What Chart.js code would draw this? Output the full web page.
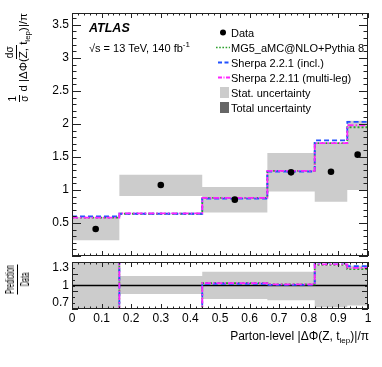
<!DOCTYPE html>
<html>
<head>
<meta charset="utf-8">
<title>ATLAS |dPhi(Z, t_lep)|/pi</title>
<script src="https://cdn.jsdelivr.net/npm/chart.js"></script>
<style>
  body { margin: 0; background: #fff; font-family: "Liberation Sans", Arial, sans-serif; }
  #wrap { position: relative; width: 382px; height: 367px; overflow: hidden; }
  canvas { position: absolute; left: 0; top: 0; }
  .lbl { position: absolute; white-space: nowrap; color: #000; }
  .frac { display: inline-flex; flex-direction: column; align-items: center; }
  .frac .num { border-bottom: 1px solid #000; padding: 0 1px; line-height: 1.05; }
  .frac .den { padding: 0 1px; line-height: 1.05; }
  .leg { position: absolute; left: 215px; top: 25px; font-size: 11px; }
  .leg .row { height: 15px; display: flex; align-items: center; }
  .leg svg { width: 15px; height: 15px; margin-right: 1px; }
  sub { font-size: 8px; }
  sup { font-size: 8px; }
</style>
</head>
<body>
<div id="wrap">
  <canvas id="main" width="382" height="367"></canvas>
  <canvas id="ratio" width="382" height="367"></canvas>

  <div class="lbl" style="left:89px; top:21px; font-size:12.5px; font-weight:bold; font-style:italic;">ATLAS</div>
  <div class="lbl" style="left:89px; top:40px; font-size:11px;">&radic;s = 13 TeV, 140 fb<sup>-1</sup></div>

  <div class="leg">
    <div class="row"><svg viewBox="0 0 15 15"><circle cx="8" cy="7.5" r="3" fill="#000"/></svg>Data</div>
    <div class="row"><svg viewBox="0 0 15 15"><line x1="1" y1="7.5" x2="15" y2="7.5" stroke="#2ca02c" stroke-width="1.6" stroke-dasharray="1.6 1.6"/></svg>MG5_aMC@NLO+Pythia 8</div>
    <div class="row"><svg viewBox="0 0 15 15"><line x1="3" y1="7.5" x2="15" y2="7.5" stroke="#2050ff" stroke-width="1.8" stroke-dasharray="4 2.5"/></svg>Sherpa 2.2.1 (incl.)</div>
    <div class="row"><svg viewBox="0 0 15 15"><line x1="3" y1="7.5" x2="15" y2="7.5" stroke="#ff22ff" stroke-width="1.8" stroke-dasharray="4 1.5 1 1.5"/></svg>Sherpa 2.2.11 (multi-leg)</div>
    <div class="row"><svg viewBox="0 0 15 15"><rect x="5" y="2" width="9" height="11" fill="#cccccc"/></svg>Stat. uncertainty</div>
    <div class="row"><svg viewBox="0 0 15 15"><rect x="5" y="2" width="9" height="11" fill="#666666"/></svg>Total uncertainty</div>
  </div>

  <div class="lbl" style="left:4px; top:104px; width:92px; height:30px; transform-origin:0 0; transform:rotate(-90deg); display:flex; justify-content:flex-end; align-items:center; font-size:11.5px;">
    <span class="frac" style="font-size:10px; margin-right:2px;"><span class="num">1</span><span class="den">&sigma;</span></span>
    <span class="frac"><span class="num" style="font-size:10px;">d&sigma;</span><span class="den">d |&Delta;&Phi;(Z, t<sub>lep</sub>)|/&pi;</span></span>
  </div>

  <div class="lbl" style="left:2px; top:292px; width:50px; height:30px; transform-origin:0 0; transform:rotate(-90deg) scale(0.5,1); display:flex; justify-content:center; align-items:center; font-size:13px;">
    <span class="frac"><span class="num">Prediction</span><span class="den">Data</span></span>
  </div>

  <div class="lbl" style="right:13px; top:329px; font-size:12px;">Parton-level |&Delta;&Phi;(Z, t<sub>lep</sub>)|/&pi;</div>
</div>

<script>
  // bin edges in |dPhi(Z, t_lep)|/pi
  const edges = [0, 0.16, 0.44, 0.66, 0.82, 0.93, 1];
  const dataX = [0.08, 0.30, 0.55, 0.74, 0.875, 0.965];
  const dataY = [0.41, 1.075, 0.853, 1.267, 1.277, 1.535];
  const statLow = [0.24, 0.91, 0.66, 0.975, 0.82, 1.0];
  const statHigh = [0.59, 1.23, 1.045, 1.56, 1.71, 2.05];
  const mg5 = [0.58, 0.64, 0.88, 1.29, 1.71, 1.95];
  const sherpa221 = [0.60, 0.64, 0.87, 1.28, 1.75, 2.03];
  const sherpa2211 = [0.58, 0.645, 0.88, 1.29, 1.71, 1.98];

  // ratio panel
  const ratioLow = [0.58, 0.857, 0.77, 0.75, 0.63, 0.66];
  const ratioHigh = [1.44, 1.16, 1.235, 1.235, 1.34, 1.335];
  const mg5Ratio = [1.42, 0.6, 1.04, 1.02, 1.35, 1.28];
  const sherpa221Ratio = [1.45, 0.6, 1.03, 1.01, 1.39, 1.33];
  const sherpa2211Ratio = [1.42, 0.6, 1.04, 1.02, 1.36, 1.30];
  const unity = [1, 1];

  const mainYTicks = [0.5, 1, 1.5, 2, 2.5, 3, 3.5];
  const ratioYTicks = [0.7, 1, 1.3];
  const xTicks = [0, 0.1, 0.2, 0.3, 0.4, 0.5, 0.6, 0.7, 0.8, 0.9, 1];

  Chart.defaults.font.family = '"Liberation Sans", Arial, sans-serif';
  Chart.defaults.color = '#000';

  // histogram as stepped points: (edge_i, value_i) plus the closing edge
  const hist = vals => edges.map((e, i) => ({ x: e, y: vals[Math.min(i, vals.length - 1)] }));

  const GREEN = '#2ca02c', BLUE = '#2050ff', MAGENTA = '#ff22ff', BAND = '#cccccc';

  function step(vals, color, dash, order) {
    return { data: hist(vals), stepped: true, borderColor: color, borderWidth: 1.8,
             borderDash: dash, pointRadius: 0, fill: false, order: order };
  }
  function bandPair(lo, hi) {
    return [
      { data: hist(lo), stepped: true, borderWidth: 0, pointRadius: 0, fill: false, order: 20 },
      { data: hist(hi), stepped: true, borderWidth: 0, pointRadius: 0, fill: '-1',
        backgroundColor: BAND, order: 19 }
    ];
  }

  // frame with inward ticks on all four sides, ROOT style
  const frameTicks = {
    id: 'frameTicks',
    afterDraw(chart, args, o) {
      const { ctx, chartArea: a, scales: { x, y } } = chart;
      ctx.save();
      ctx.strokeStyle = '#222';
      ctx.lineWidth = 1;
      ctx.strokeRect(Math.round(a.left) + 0.5, Math.round(a.top) + 0.5,
                     Math.round(a.right - a.left) - 1, Math.round(a.bottom - a.top) - 1);
      ctx.beginPath();
      for (let i = 0; ; i++) {
        const v = o.yStart + i * o.yMinor;
        if (v > y.max + 1e-9) break;
        if (v < y.min - 1e-9) continue;
        const major = Math.abs(v / o.yMajor - Math.round(v / o.yMajor)) < 1e-6;
        const len = major ? o.yMajLen : o.yMinLen;
        const py = Math.round(y.getPixelForValue(v)) + 0.5;
        ctx.moveTo(a.left, py); ctx.lineTo(a.left + len, py);
        ctx.moveTo(a.right, py); ctx.lineTo(a.right - len, py);
      }
      for (let i = 0; ; i++) {
        const v = i * o.xMinor;
        if (v > x.max + 1e-9) break;
        const major = Math.abs(v / o.xMajor - Math.round(v / o.xMajor)) < 1e-6;
        const len = major ? o.xMajLen : o.xMinLen;
        const px = Math.round(x.getPixelForValue(v)) + 0.5;
        ctx.moveTo(px, a.bottom); ctx.lineTo(px, a.bottom - len);
        ctx.moveTo(px, a.top); ctx.lineTo(px, a.top + len);
      }
      ctx.stroke();
      ctx.restore();
    }
  };

  const yAxisCommon = {
    afterFit(s) { s.width = 36; },
    grid: { display: false, drawTicks: false },
    border: { display: false },
    ticks: { font: { size: 12 }, color: '#000', padding: 3, callback: v => String(v) }
  };

  new Chart(document.getElementById('main'), {
    type: 'line',
    data: {
      datasets: [
        ...bandPair(statLow, statHigh),
        step(mg5, GREEN, [2, 2], 3),
        step(sherpa221, BLUE, [5, 3], 2),
        step(sherpa2211, MAGENTA, [6, 2, 1.5, 2], 1),
        { data: dataX.map((v, i) => ({ x: v, y: dataY[i] })), showLine: false,
          pointRadius: 3.3, pointBackgroundColor: '#000', pointBorderWidth: 0, order: 0 }
      ]
    },
    options: {
      responsive: false, animation: false, events: [],
      layout: { padding: { left: 36, top: 13, right: 14, bottom: 111 } },
      plugins: {
        legend: { display: false }, tooltip: { enabled: false },
        frameTicks: { yStart: 0, yMinor: 0.1, yMajor: 0.5, yMajLen: 9, yMinLen: 4.5,
                      xMinor: 0.02, xMajor: 0.1, xMajLen: 5, xMinLen: 2.5 }
      },
      scales: {
        x: { type: 'linear', min: 0, max: 1, display: false },
        y: { ...yAxisCommon, min: 0, max: 3.68,
             afterBuildTicks(s) { s.ticks = mainYTicks.map(v => ({ value: v })); } }
      }
    },
    plugins: [frameTicks]
  });

  new Chart(document.getElementById('ratio'), {
    type: 'line',
    data: {
      datasets: [
        ...bandPair(ratioLow, ratioHigh),
        { data: [{ x: 0, y: unity[0] }, { x: 1, y: unity[1] }], borderColor: '#000',
          borderWidth: 1.3, pointRadius: 0, order: 5 },
        step(mg5Ratio, GREEN, [2, 2], 3),
        step(sherpa221Ratio, BLUE, [5, 3], 2),
        step(sherpa2211Ratio, MAGENTA, [6, 2, 1.5, 2], 1)
      ]
    },
    options: {
      responsive: false, animation: false, events: [],
      layout: { padding: { left: 36, top: 262, right: 14, bottom: 42 } },
      plugins: {
        legend: { display: false }, tooltip: { enabled: false },
        frameTicks: { yStart: 0.6, yMinor: 0.1, yMajor: 0.3, yMajLen: 6, yMinLen: 3,
                      xMinor: 0.02, xMajor: 0.1, xMajLen: 5, xMinLen: 2.5 }
      },
      scales: {
        x: { type: 'linear', min: 0, max: 1,
             afterFit(s) { s.height = 16; },
             afterBuildTicks(s) { s.ticks = xTicks.map(v => ({ value: v })); },
             grid: { display: false, drawTicks: false }, border: { display: false },
             ticks: { font: { size: 12 }, color: '#000', padding: 2, maxRotation: 0,
                      autoSkip: false, callback: v => String(v) } },
        y: { ...yAxisCommon, min: 0.6, max: 1.4,
             afterBuildTicks(s) { s.ticks = ratioYTicks.map(v => ({ value: v })); } }
      }
    },
    plugins: [frameTicks]
  });
</script>
</body>
</html>
